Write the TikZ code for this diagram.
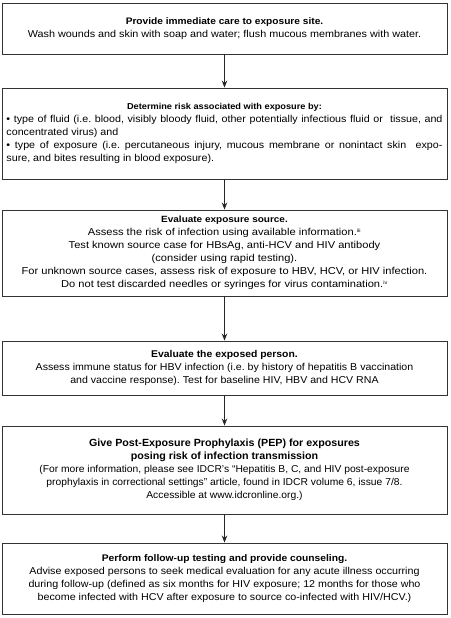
\documentclass[tikz,border=0pt]{standalone}
\usepackage{fontspec}
\setmainfont{Liberation Sans}
\newfontfamily\rfA{Liberation Sans}[FakeStretch=1.08]
\newfontfamily\rfB{Liberation Sans}[FakeStretch=1.07]
\newfontfamily\rfC{Liberation Sans}[FakeStretch=1.11]
\newfontfamily\rfD{Liberation Sans}[FakeStretch=1.06]
\newfontfamily\rfE{Liberation Sans}[FakeStretch=1.03]
\newfontfamily\rfF{Liberation Sans}[FakeStretch=1.07]
\newcommand\btl[2]{{\fontsize{#1}{13}\selectfont\bfseries #2}}
\frenchspacing
\usetikzlibrary{arrows.meta}
\begin{document}
\begin{tikzpicture}[x=1pt,y=1pt,
  box/.style={draw=black!80,line width=0.9pt,fill=white,inner sep=0pt,
    minimum width=445pt,align=center},
  conn/.style={draw=black!85,line width=1pt,-{Stealth[length=7pt,width=5.5pt]}}]
\useasboundingbox (0,0) rectangle (450,-618);
\fill[white] (0,0) rectangle (450,-618);
\node[box,minimum height=51pt,font=\rfA\fontsize{10}{13}\selectfont] (b1) at (224.5,-28.5)
  {\btl{9.4}{Provide immediate care to exposure site.}\\
   Wash wounds and skin with soap and water; flush mucous membranes with water.};
\node[box,minimum height=91pt,align=left] (b2) at (224.5,-133.5)
  {\begin{minipage}{436pt}\rfB\fontsize{10}{13}\selectfont\frenchspacing
   \centerline{\btl{8.6}{Determine risk associated with exposure by:}}
   \noindent • type of fluid (i.e. blood, visibly bloody fluid, other potentially infectious fluid or\ \ tissue, and\linebreak
   concentrated virus) and\par
   \noindent • type of exposure (i.e. percutaneous injury, mucous membrane or nonintact skin\ \ expo-\linebreak
   sure, and bites resulting in blood exposure).\par
   \end{minipage}};
\node[box,minimum height=86pt,font=\rfC\fontsize{10}{13}\selectfont] (b3) at (224.5,-253)
  {\btl{9.0}{Evaluate exposure source.}\\
   Assess the risk of infection using available information.\textsuperscript{\tiny iii}\\
   Test known source case for HBsAg, anti-HCV and HIV antibody\\
   (consider using rapid testing).\\
   For unknown source cases, assess risk of exposure to HBV, HCV, or HIV infection.\\
   Do not test discarded needles or syringes for virus contamination.\textsuperscript{\tiny iv}};
\node[box,minimum height=54pt,font=\rfD\fontsize{10}{13}\selectfont] (b4) at (224.5,-368)
  {\btl{9.8}{Evaluate the exposed person.}\\
   Assess immune status for HBV infection (i.e. by history of hepatitis B vaccination\\
   and vaccine response). Test for baseline HIV, HBV and HCV RNA};
\node[box,minimum height=88pt,font=\rfE\fontsize{10}{13}\selectfont] (b5) at (224.5,-470)
  {\btl{10.4}{Give Post-Exposure Prophylaxis (PEP) for exposures}\\
   \btl{10.4}{posing risk of infection transmission}\\
   (For more information, please see IDCR’s “Hepatitis B, C, and HIV post-exposure\\
   prophylaxis in correctional settings” article, found in IDCR volume 6, issue 7/8.\\
   Accessible at www.idcronline.org.)};
\node[box,minimum height=71pt,font=\rfF\fontsize{10}{13}\selectfont] (b6) at (224.5,-578.5)
  {\btl{9.6}{Perform follow-up testing and provide counseling.}\\
   Advise exposed persons to seek medical evaluation for any acute illness occurring\\
   during follow-up (defined as six months for HIV exposure; 12 months for those who\\
   become infected with HCV after exposure to source co-infected with HIV/HCV.)};
\draw[conn] (b1) -- (b2);
\draw[conn] (b2) -- (b3);
\draw[conn] (b3) -- (b4);
\draw[conn] (b4) -- (b5);
\draw[conn] (b5) -- (b6);
\end{tikzpicture}
\end{document}
